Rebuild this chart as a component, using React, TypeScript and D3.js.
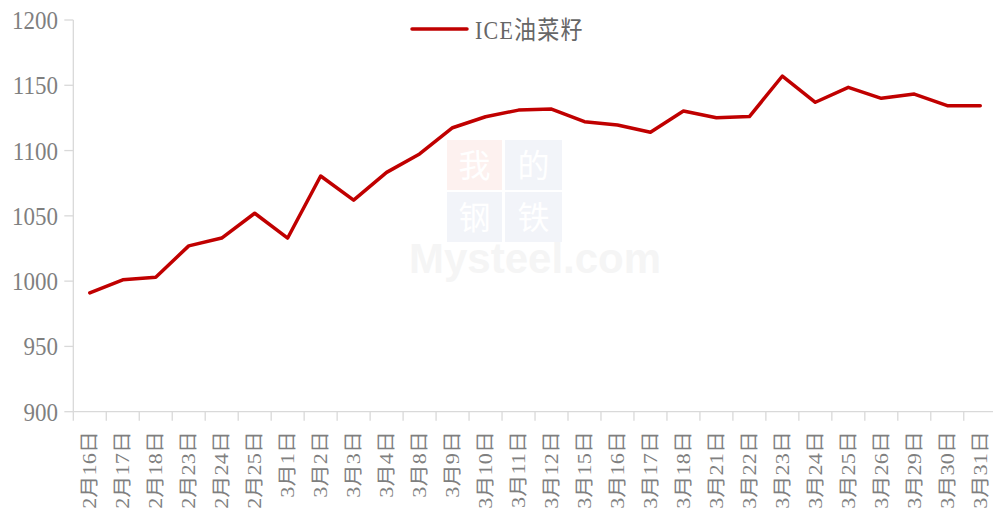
import React from "react";
import * as d3 from "d3";

const categories = [
  "2月16日", "2月17日", "2月18日", "2月23日", "2月24日", "2月25日", "3月1日",
  "3月2日", "3月3日", "3月4日", "3月8日", "3月9日", "3月10日", "3月11日",
  "3月12日", "3月15日", "3月16日", "3月17日", "3月18日", "3月21日", "3月22日",
  "3月23日", "3月24日", "3月25日", "3月26日", "3月29日", "3月30日", "3月31日",
];
const rapeseed = [
  991, 1001, 1003, 1027, 1033, 1052, 1033,
  1080.5, 1062, 1083.3, 1097.4, 1117.5, 1125.9, 1131,
  1131.8, 1122.1, 1119.6, 1114, 1130.3, 1125.2, 1126,
  1157.1, 1137, 1148.4, 1140, 1143.3, 1134.4, 1134.4,
];
const yTicks = [900, 950, 1000, 1050, 1100, 1150, 1200];
const seriesName = "ICE油菜籽";
const watermarkChars = ["我", "的", "钢", "铁"];
const watermarkText = "Mysteel.com";

const W = 993;
const H = 513;
const left = 73.3;
const bandW = 32.98;
const top = 20;
const bottom = 411.7;

export default function App() {
  const x = d3
    .scaleBand<string>()
    .domain(categories)
    .range([left, left + bandW * categories.length])
    .paddingInner(0)
    .paddingOuter(0);
  const y = d3.scaleLinear().domain([900, 1200]).range([bottom, top]);
  const line = d3
    .line<number>()
    .x((_, i) => (x(categories[i]) as number) + x.bandwidth() / 2)
    .y((d) => y(d));

  const font = "'Times New Roman', 'Liberation Serif', 'Noto Sans CJK SC', serif";
  const axisColor = "#d9d9d9";
  const textColor = "#7f7f7f";
  const xEnd = left + bandW * categories.length;

  const wmBoxes = [
    { x: 447, y: 140, w: 55, fill: "#fdf1ef" },
    { x: 505, y: 140, w: 57, fill: "#f2f4f9" },
    { x: 447, y: 192, w: 55, fill: "#f2f4f9" },
    { x: 505, y: 192, w: 57, fill: "#f2f4f9" },
  ];

  return (
    <svg
      width={W}
      height={H}
      style={{ position: "absolute", left: 0, top: 0, background: "#fff" }}
    >
      {/* watermark */}
      <g>
        {wmBoxes.map((b, i) => (
          <g key={i}>
            <rect x={b.x} y={b.y} width={b.w} height={50} fill={b.fill} />
            <text
              x={b.x + b.w / 2}
              y={b.y + 37}
              fontSize={32}
              textAnchor="middle"
              fill="#fff"
              fontFamily="'Noto Sans CJK SC'"
            >
              {watermarkChars[i]}
            </text>
          </g>
        ))}
        <text x={409} y={273} fontSize={42} fontWeight={700} fill="#f5f5f5" fontFamily="Arial, 'Liberation Sans', sans-serif">
          {watermarkText}
        </text>
      </g>

      {/* y axis */}
      <line x1={left} x2={left} y1={top} y2={bottom} stroke={axisColor} strokeWidth={1.3} />
      {yTicks.map((t) => (
        <g key={t}>
          <line x1={left - 9} x2={left} y1={y(t)} y2={y(t)} stroke={axisColor} strokeWidth={1.3} />
          <text
            transform={`translate(58,${y(t)}) scale(1,1.12)`}
            dy="0.35em"
            textAnchor="end"
            fontSize={23}
            fill={textColor}
            fontFamily={font}
          >
            {t}
          </text>
        </g>
      ))}

      {/* x axis */}
      <line x1={left} x2={xEnd} y1={bottom} y2={bottom} stroke={axisColor} strokeWidth={1.3} />
      {categories.map((c) => {
        const bx = x(c) as number;
        const cx = bx + x.bandwidth() / 2;
        return (
          <g key={c}>
            <line x1={bx} x2={bx} y1={bottom} y2={bottom + 9} stroke={axisColor} strokeWidth={1.3} />
            <text
              transform={`translate(${cx},${431}) scale(1,1.17) rotate(-90)`}
              dy="0.35em"
              textAnchor="end"
              fontSize={19}
              fill={textColor}
              fontFamily={font}
            >
              {c}
            </text>
          </g>
        );
      })}
      <line x1={xEnd} x2={xEnd} y1={bottom} y2={bottom + 9} stroke={axisColor} strokeWidth={1.3} />

      {/* series */}
      <path d={line(rapeseed) || ""} fill="none" stroke="#c00000" strokeWidth={3.5} strokeLinejoin="round" strokeLinecap="round" />

      {/* legend */}
      <line x1={412} x2={467} y1={29} y2={29} stroke="#c00000" strokeWidth={3.5} strokeLinecap="round" />
      <text
        transform="translate(475,30) scale(1,1.12)"
        dy="0.35em"
        fontSize={22}
        letterSpacing={1.2}
        fill="#666666"
        fontFamily={font}
      >
        {seriesName}
      </text>
    </svg>
  );
}
